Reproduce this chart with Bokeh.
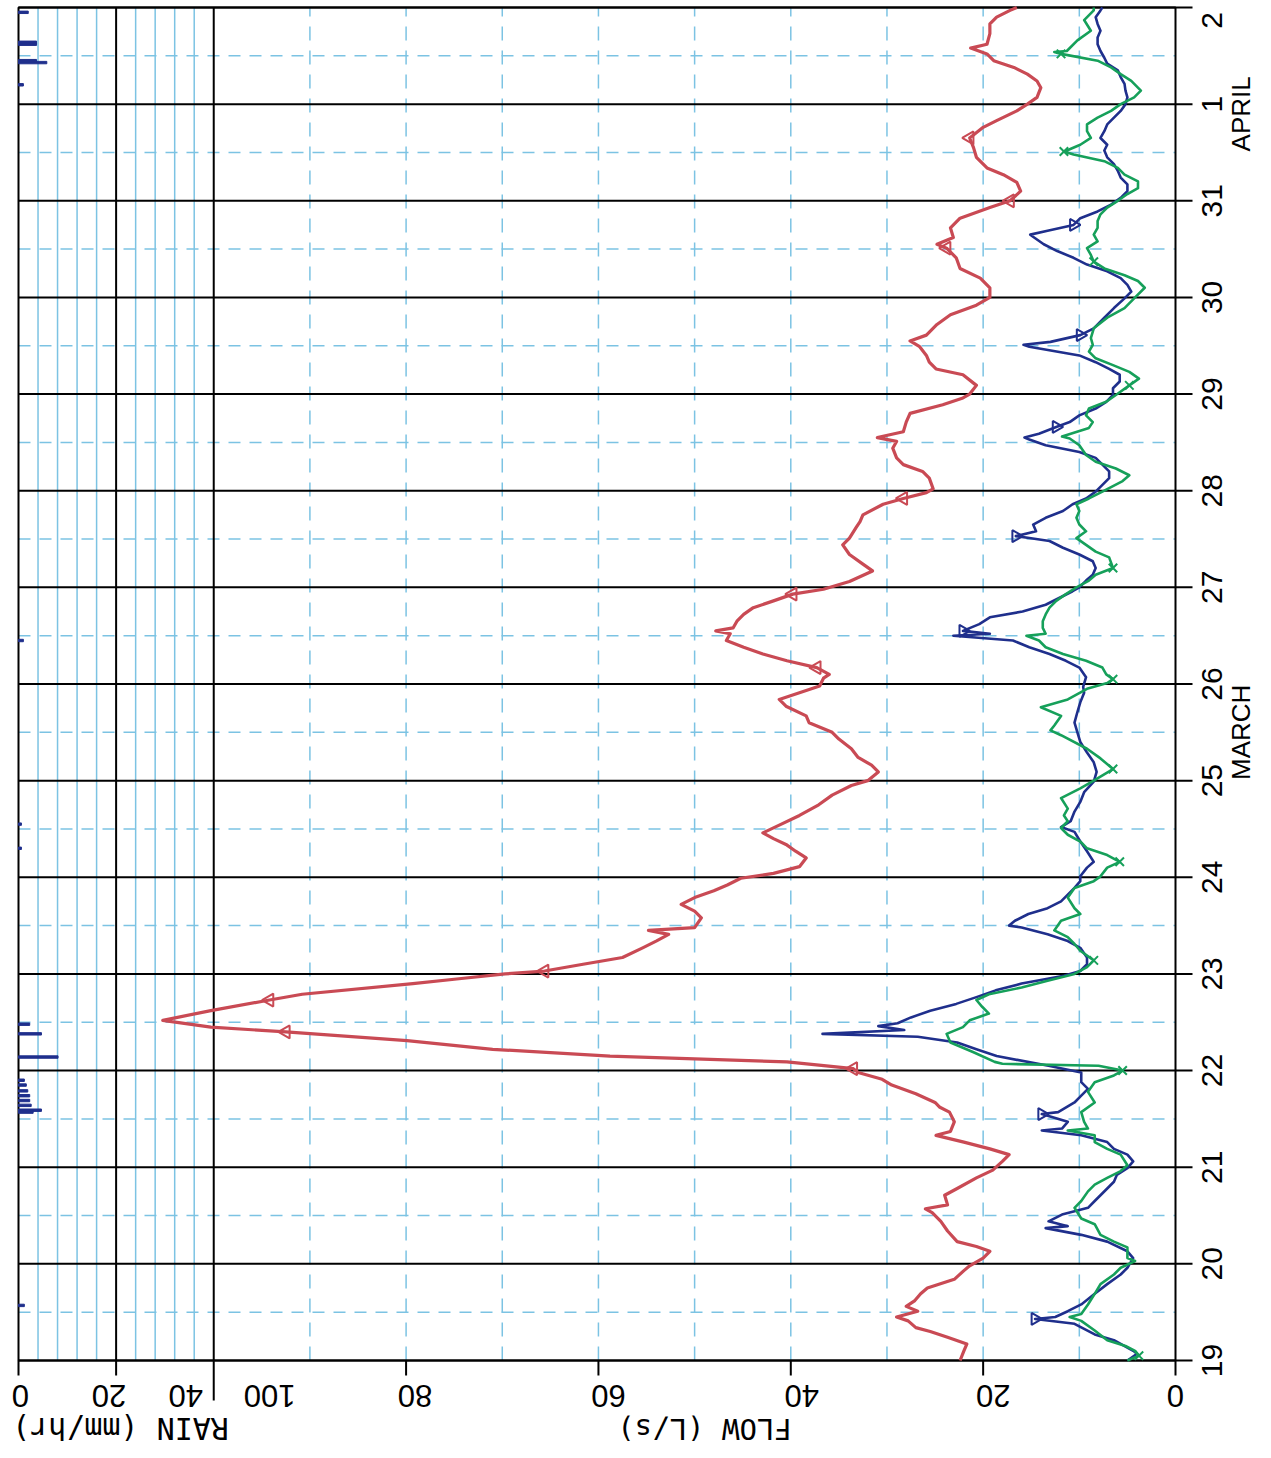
import numpy as np
from bokeh.plotting import figure
from bokeh.models import Range1d
from bokeh.core.properties import value
from bokeh.embed import file_html
from bokeh.resources import INLINE

# ---------------- data (days since 19 March 00:00) ----------------
red_day = [0.00, 0.10, 0.17, 0.24, 0.30, 0.34, 0.41, 0.45, 0.51, 0.56, 0.62, 0.69, 0.75, 0.84, 0.93, 0.98,
           1.06, 1.13, 1.18, 1.23, 1.34, 1.44, 1.53, 1.57, 1.61, 1.71, 1.78, 1.89, 1.97, 2.06, 2.13, 2.19,
           2.26, 2.33, 2.37, 2.47, 2.57, 2.62, 2.67, 2.76, 2.85, 2.91, 2.98, 3.02, 3.09, 3.15, 3.22, 3.31,
           3.40, 3.45, 3.52, 3.62, 3.73, 3.79, 3.90, 3.95, 4.00, 4.03, 4.10, 4.17, 4.27, 4.34, 4.41, 4.45,
           4.48, 4.58, 4.65, 4.72, 4.79, 4.86, 4.92, 4.99, 5.04, 5.11, 5.20, 5.27, 5.34, 5.40, 5.46, 5.54,
           5.64, 5.75, 5.85, 5.95, 6.00, 6.09, 6.16, 6.24, 6.33, 6.43, 6.50, 6.60, 6.67, 6.77, 6.84, 6.91,
           6.98, 7.06, 7.10, 7.17, 7.24, 7.31, 7.38, 7.45, 7.52, 7.55, 7.58, 7.65, 7.72, 7.79, 7.86, 7.93,
           7.98, 8.06, 8.17, 8.24, 8.34, 8.44, 8.51, 8.62, 8.68, 8.75, 8.86, 8.92, 8.98, 9.02, 9.13, 9.20,
           9.27, 9.34, 9.44, 9.51, 9.55, 9.61, 9.71, 9.80, 9.89, 9.96, 10.00, 10.09, 10.20, 10.26, 10.33,
           10.40, 10.49, 10.55, 10.61, 10.72, 10.82, 10.92, 11.00, 11.10, 11.20, 11.30, 11.41, 11.51, 11.55,
           11.62, 11.72, 11.82, 11.93, 12.00, 12.10, 12.19, 12.27, 12.34, 12.45, 12.55, 12.65, 12.76, 12.83,
           12.93, 13.00, 13.07, 13.17, 13.24, 13.31, 13.38, 13.45, 13.52, 13.58, 13.62, 13.73, 13.83, 13.90,
           13.97, 14.00]
red_flow = [22.4, 22.0, 21.7, 23.7, 25.5, 27.0, 27.8, 29.0, 26.8, 28.0, 27.1, 26.5, 25.8, 23.0, 22.0, 21.4,
            20.0, 19.3, 20.7, 22.7, 23.7, 24.4, 25.3, 26.0, 23.7, 24.0, 22.7, 20.7, 19.0, 18.0, 17.3, 19.3,
            22.0, 24.9, 23.4, 23.0, 23.5, 24.5, 25.0, 27.0, 29.5, 30.5, 33.0, 33.5, 40.4, 58.8, 71.0, 79.9,
            92.5, 100.3, 105.3, 100.3, 94.2, 90.8, 79.3, 74.5, 69.7, 65.6, 61.6, 57.5, 55.4, 54.0, 52.7, 54.8,
            50.0, 49.3, 50.0, 51.4, 50.0, 48.0, 46.6, 45.2, 41.8, 39.1, 38.4, 39.5, 40.5, 41.8, 42.9, 41.2,
            39.1, 37.1, 35.7, 33.7, 32.0, 30.9, 31.6, 33.0, 33.7, 35.0, 35.7, 38.1, 38.4, 40.5, 41.2, 39.1,
            37.0, 36.6, 36.0, 37.3, 40.4, 42.9, 44.9, 46.7, 46.3, 47.8, 46.0, 45.6, 44.9, 43.9, 41.8, 39.8,
            36.6, 33.9, 31.5, 32.5, 33.9, 34.6, 33.9, 33.2, 32.8, 32.5, 30.4, 28.3, 25.9, 25.2, 25.6, 26.3,
            28.3, 29.0, 29.4, 29.0, 31.0, 28.3, 28.0, 27.6, 24.2, 22.1, 21.4, 20.7, 22.1, 24.9, 25.6,
            25.9, 26.6, 27.6, 25.9, 24.8, 23.4, 20.7, 19.3, 19.3, 20.3, 22.4, 22.8, 23.8, 24.8,
            23.1, 23.4, 22.4, 19.3, 17.2, 16.1, 16.5, 17.9, 19.6, 20.7, 21.0, 21.4, 20.0, 18.6,
            16.5, 15.4, 14.4, 14.0, 14.4, 15.4, 16.8, 18.9, 19.6, 21.3, 19.6, 19.3, 19.3, 18.6,
            17.2, 16.5]

blue_day = [0.00, 0.07, 0.10, 0.21, 0.27, 0.38, 0.43, 0.45, 0.51, 0.58, 0.69, 0.79, 0.89, 0.96, 1.06, 1.13,
            1.23, 1.30, 1.37, 1.39, 1.44, 1.51, 1.58, 1.65, 1.71, 1.78, 1.85, 1.92, 1.99, 2.06, 2.13, 2.19,
            2.26, 2.33, 2.38, 2.40, 2.47, 2.55, 2.57, 2.67, 2.74, 2.81, 2.88, 2.98, 3.05, 3.15, 3.22, 3.29,
            3.35, 3.38, 3.42, 3.46, 3.49, 3.55, 3.62, 3.69, 3.76, 3.83, 3.90, 3.95, 3.98, 4.03, 4.10, 4.17,
            4.27, 4.34, 4.41, 4.48, 4.50, 4.55, 4.62, 4.68, 4.75, 4.82, 4.89, 4.96, 5.01, 5.10, 5.16, 5.27,
            5.37, 5.47, 5.52, 5.58, 5.68, 5.78, 5.88, 5.99, 6.09, 6.19, 6.29, 6.40, 6.50, 6.60, 6.71, 6.81,
            6.91, 6.97, 7.07, 7.17, 7.24, 7.31, 7.38, 7.45, 7.50, 7.52, 7.55, 7.62, 7.69, 7.75, 7.82, 7.89,
            7.96, 8.00, 8.07, 8.13, 8.20, 8.27, 8.34, 8.41, 8.48, 8.51, 8.53, 8.58, 8.65, 8.72, 8.79, 8.86,
            8.92, 8.99, 9.06, 9.13, 9.20, 9.27, 9.34, 9.40, 9.47, 9.53, 9.55, 9.59, 9.66, 9.71, 9.78, 9.85,
            9.92, 9.99, 10.06, 10.13, 10.20, 10.26, 10.33, 10.40, 10.49, 10.51, 10.54, 10.61, 10.68, 10.79,
            10.89, 10.99, 11.06, 11.13, 11.20, 11.27, 11.34, 11.41, 11.48, 11.55, 11.62, 11.65, 11.69, 11.75,
            11.82, 11.89, 11.96, 12.03, 12.10, 12.17, 12.24, 12.31, 12.38, 12.45, 12.52, 12.58, 12.65, 12.72,
            12.79, 12.86, 12.93, 13.00, 13.07, 13.14, 13.21, 13.28, 13.35, 13.42, 13.48, 13.55, 13.62, 13.69,
            13.76, 13.83, 13.90, 13.97, 14.00]
blue_flow = [5.0, 4.0, 4.4, 6.4, 8.4, 10.5, 14.6, 12.5, 11.2, 9.8, 8.4, 7.1, 5.7, 5.0, 4.4, 5.0,
             7.1, 9.8, 13.5, 11.2, 13.2, 11.8, 9.1, 8.4, 7.8, 7.1, 6.4, 6.1, 5.0, 4.4, 5.0, 6.4,
             7.1, 9.8, 13.9, 11.8, 11.2, 13.9, 12.2, 10.5, 9.8, 9.1, 9.8, 9.8, 13.2, 18.6, 20.7, 22.7,
             26.8, 36.7, 28.2, 30.9, 28.9, 27.5, 25.5, 22.8, 20.7, 18.7, 16.0, 13.3, 11.6, 9.9, 9.2, 9.2,
             9.9, 11.2, 13.3, 16.0, 17.3, 16.7, 15.3, 13.3, 11.9, 11.2, 10.5, 9.9, 9.9, 9.2, 8.5, 9.2,
             9.9, 10.5, 11.9, 10.9, 10.5, 9.9, 9.5, 8.5, 8.2, 8.5, 9.2, 9.9, 10.2, 10.5, 10.2, 9.9,
             9.5, 9.6, 9.3, 10.0, 11.4, 13.1, 15.2, 16.9, 23.1, 19.3, 22.1, 20.4, 19.3, 15.9, 13.5, 12.1,
             10.7, 10.0, 9.3, 8.6, 8.3, 8.6, 10.0, 11.7, 13.1, 15.2, 16.6, 14.5, 14.8, 13.5, 11.7, 10.7,
             9.3, 8.3, 7.6, 6.9, 6.9, 7.6, 8.3, 10.0, 13.5, 15.2, 15.7, 14.2, 12.4, 11.0, 10.0, 8.3,
             7.2, 6.5, 6.5, 5.8, 5.8, 6.9, 8.3, 10.0, 15.2, 15.8, 13.0, 9.9, 8.5, 7.4,
             6.4, 5.3, 4.6, 5.0, 5.7, 7.1, 9.2, 10.6, 12.3, 13.7, 14.7, 15.1, 13.3, 10.6,
             9.9, 8.1, 6.7, 5.7, 5.0, 5.0, 5.7, 6.0, 6.4, 7.1, 7.4, 7.1, 7.8, 7.4,
             7.1, 6.4, 5.7, 5.2, 5.0, 5.2, 5.3, 5.7, 6.0, 7.1, 7.4, 7.8, 8.1, 8.1,
             7.8, 8.1, 8.3, 7.8, 7.6]

green_day = [0.00, 0.05, 0.10, 0.15, 0.21, 0.31, 0.41, 0.45, 0.48, 0.58, 0.69, 0.79, 0.89, 0.96, 1.03, 1.06,
             1.17, 1.23, 1.30, 1.41, 1.47, 1.58, 1.65, 1.75, 1.82, 1.89, 1.96, 2.02, 2.13, 2.19, 2.26, 2.33,
             2.38, 2.40, 2.47, 2.57, 2.67, 2.78, 2.88, 2.95, 3.00, 3.05, 3.07, 3.09, 3.19, 3.29, 3.38, 3.45,
             3.52, 3.59, 3.66, 3.73, 3.79, 3.86, 3.93, 4.00, 4.07, 4.14, 4.24, 4.31, 4.38, 4.45, 4.55, 4.62,
             4.68, 4.79, 4.89, 4.96, 5.01, 5.10, 5.16, 5.23, 5.30, 5.37, 5.44, 5.51, 5.58, 5.64, 5.71, 5.82,
             5.92, 6.00, 6.12, 6.23, 6.33, 6.47, 6.52, 6.57, 6.67, 6.76, 6.84, 6.95, 7.01, 7.05, 7.10, 7.17,
             7.24, 7.31, 7.38, 7.45, 7.50, 7.52, 7.58, 7.65, 7.72, 7.79, 7.86, 7.93, 8.00, 8.07, 8.13, 8.20,
             8.31, 8.37, 8.44, 8.51, 8.58, 8.65, 8.72, 8.79, 8.86, 8.92, 8.99, 9.10, 9.16, 9.23, 9.30, 9.37,
             9.47, 9.54, 9.56, 9.65, 9.71, 9.78, 9.85, 9.92, 9.99, 10.09, 10.16, 10.23, 10.30, 10.37, 10.44,
             10.51, 10.58, 10.68, 10.79, 10.89, 10.99, 11.10, 11.17, 11.23, 11.30, 11.37, 11.44, 11.51, 11.58,
             11.65, 11.72, 11.79, 11.86, 11.93, 12.00, 12.07, 12.13, 12.20, 12.27, 12.34, 12.41, 12.48, 12.51,
             12.52, 12.58, 12.65, 12.72, 12.79, 12.86, 12.93, 13.00, 13.07, 13.14, 13.24, 13.31, 13.38, 13.45,
             13.52, 13.54, 13.55, 13.66, 13.76, 13.87, 13.97, 14.00]
green_flow = [5.0, 3.8, 4.2, 5.2, 7.1, 8.4, 9.8, 11.0, 9.8, 9.1, 8.4, 7.8, 6.4, 5.7, 4.2, 5.0,
              5.0, 6.4, 7.8, 8.4, 9.8, 10.5, 9.8, 9.1, 8.4, 7.1, 5.7, 5.0, 5.7, 7.1, 8.4, 8.4,
              11.2, 9.1, 9.5, 9.8, 8.4, 9.1, 8.4, 6.4, 5.5, 8.0, 18.0, 18.8, 21.0, 23.4, 23.8, 22.1,
              21.4, 19.4, 20.1, 20.7, 19.4, 16.0, 13.3, 10.5, 9.2, 8.5, 9.9, 10.5, 11.2, 12.6, 11.9, 9.9,
              10.5, 11.2, 10.5, 8.5, 7.8, 7.1, 5.8, 7.1, 9.2, 9.9, 11.2, 11.9, 11.2, 11.6, 11.2, 11.9,
              9.9, 8.5, 6.5, 7.8, 9.2, 11.9, 13.0, 12.6, 11.9, 14.0, 11.2, 9.2, 7.1, 6.5, 7.2, 7.6,
              9.3, 11.7, 13.5, 14.2, 15.5, 13.5, 13.8, 13.8, 13.5, 13.1, 12.4, 11.4, 10.3, 9.0, 8.3, 6.5,
              6.9, 8.3, 9.3, 10.3, 9.3, 10.0, 10.3, 10.0, 10.3, 9.0, 7.6, 5.5, 4.8, 6.2, 8.3, 9.3,
              10.0, 11.0, 11.8, 9.0, 8.6, 9.3, 9.0, 7.2, 6.2, 4.8, 3.8, 4.8, 6.5, 8.3, 9.0,
              8.6, 8.8, 8.5, 7.1, 5.3, 4.3, 3.2, 3.9, 5.3, 7.4, 8.5, 8.8, 9.2, 8.1,
              8.5, 8.1, 8.1, 7.8, 7.1, 6.0, 5.0, 3.9, 3.9, 5.3, 6.0, 7.4, 10.6, 11.6,
              11.3, 9.9, 8.8, 9.2, 9.2, 8.1, 6.7, 5.7, 4.3, 3.6, 4.6, 5.7, 6.7, 8.1,
              11.9, 12.6, 11.3, 10.2, 8.8, 9.5, 8.5, 8.5]

rain_day = [0.57, 2.57, 2.59, 2.64, 2.69, 2.74, 2.79, 2.85, 2.90, 3.14, 3.38, 3.48,
            5.30, 5.55, 7.45, 13.20, 13.43, 13.45, 13.62, 13.64, 13.95]
rain_rate = [1.2, 3.0, 4.7, 2.6, 2.3, 2.3, 1.9, 1.6, 1.2, 8.1, 4.7, 2.3,
             0.6, 0.6, 1.0, 1.0, 5.8, 3.7, 3.7, 3.7, 2.0]

red_marker_idx = [43, 48, 52, 57, 99, 111, 123, 155, 161, 168]
blue_marker_idx = [6, 37, 106, 122, 140, 155, 171]
green_marker_idx = [1, 40, 57, 70, 82, 93, 111, 137, 153, 170, 185]

day_ticks = list(range(0, 15))
day_labels = ["19", "20", "21", "22", "23", "24", "25", "26", "27", "28", "29", "30", "31", "1", "2"]
month_names = ["MARCH", "APRIL"]
month_pos = [6.5, 12.9]
flow_ticks = [0, 20, 40, 60, 80, 100]
flow_labels = ["0", "20", "40", "60", "80", "100"]
rain_ticks = [0, 20, 40]
rain_labels = ["0", "20", "40"]
flow_title = "FLOW (L/s)"
rain_title = "RAIN (mm/hr)"

# ---------------- layout / style ----------------
W, H = 1268, 1455                   # canvas
PL, PR, PT, PB = 18, 1175, 7, 1360  # plot box in canvas pixels
FLOW_LEFT = 120.3                   # flow value at the left edge of the box
FLOW_SPLIT = 100.0                  # rain / flow boundary
RAIN_SPLIT = 40.0
DAYS = 14.0

px_flow = (PR - PL) / FLOW_LEFT
px_day = (PB - PT) / DAYS
split_px = PR - FLOW_SPLIT * px_flow
px_rain = (split_px - PL) / RAIN_SPLIT

def fx(px):      # canvas x -> flow
    return (PR - px) / px_flow

def dy(py):      # canvas y -> day
    return (PB - py) / px_day

def rx(px):      # canvas x -> rain
    return (px - PL) / px_rain

RED = "#c94a54"
BLUE = "#1f2f8c"
GREEN = "#16a05a"
GRIDBLUE = "#7cc3e3"
NUM_FONT = "Liberation Sans"
TITLE_FONT = "DejaVu Sans Mono"

p = figure(width=W, height=H,
           x_range=Range1d(fx(0), fx(W)), y_range=Range1d(dy(H), dy(0)),
           output_backend="svg", toolbar_location=None,
           x_axis_location=None, y_axis_location=None,
           min_border=0)
p.extra_x_ranges = {"rain": Range1d(rx(0), rx(W))}
p.grid.visible = False
p.outline_line_color = None
p.background_fill_color = "white"
p.border_fill_color = "white"

# light blue half-day dashed lines
half = [d + 0.5 for d in day_ticks[:-1]]
p.segment(x0=[FLOW_LEFT] * len(half), x1=[0] * len(half), y0=half, y1=half,
          line_color=GRIDBLUE, line_width=1.5, line_dash="12 9")
# dashed flow grid
fg = [10, 20, 30, 40, 50, 60, 70, 80, 90]
p.segment(x0=fg, x1=fg, y0=[0] * len(fg), y1=[DAYS] * len(fg),
          line_color=GRIDBLUE, line_width=1.5, line_dash="14 10")
# rain panel solid light blue lines
rg = [4, 8, 12, 16, 24, 28, 32, 36]
p.segment(x0=rg, x1=rg, y0=[0] * len(rg), y1=[DAYS] * len(rg),
          line_color=GRIDBLUE, line_width=1.5, x_range_name="rain")
p.segment(x0=[20], x1=[20], y0=[0], y1=[DAYS], line_color="black", line_width=2, x_range_name="rain")
# boundary line (extends below as long tick)
p.segment(x0=[FLOW_SPLIT], x1=[FLOW_SPLIT], y0=[dy(PB + 40)], y1=[DAYS], line_color="black", line_width=2)
# day lines, extending right as ticks
p.segment(x0=[FLOW_LEFT] * len(day_ticks), x1=[fx(PR + 17)] * len(day_ticks), y0=day_ticks, y1=day_ticks,
          line_color="black", line_width=2)
# bottom ticks
bt = flow_ticks[:-1]
p.segment(x0=bt, x1=bt, y0=[0] * len(bt), y1=[dy(PB + 15)] * len(bt), line_color="black", line_width=2)
rt = rain_ticks[:-1]
p.segment(x0=rt, x1=rt, y0=[0] * len(rt), y1=[dy(PB + 15)] * len(rt), line_color="black", line_width=2,
          x_range_name="rain")
# box
p.quad(left=[FLOW_LEFT], right=[0], bottom=[0], top=[DAYS], fill_color=None, line_color="black", line_width=2)

# rain bars
p.hbar(y=rain_day, left=0, right=rain_rate, height=0.025, color=BLUE, x_range_name="rain")

# flow series
p.line(blue_flow, blue_day, line_color=BLUE, line_width=2.6, line_join="round")
p.line(green_flow, green_day, line_color=GREEN, line_width=2.6, line_join="round")
p.line(red_flow, red_day, line_color=RED, line_width=3.2, line_join="round")

p.scatter([red_flow[i] for i in red_marker_idx], [red_day[i] for i in red_marker_idx],
          marker="triangle", angle=np.pi / 2, size=13, line_color=RED, fill_color=None, line_width=2)
p.scatter([blue_flow[i] for i in blue_marker_idx], [blue_day[i] for i in blue_marker_idx],
          marker="inverted_triangle", angle=np.pi / 2, size=12, line_color=BLUE, fill_color=None, line_width=2)
p.scatter([green_flow[i] for i in green_marker_idx], [green_day[i] for i in green_marker_idx],
          marker="x", size=12, line_color=GREEN, line_width=2)

# bottom tick labels (upside down)
lab_y = dy(PB + 35)
flow_xoff = [0, 10, 11, 10, 9, 56]      # px to the right of the tick
rain_xoff = [2, -7, -28]
p.text(x=[t - o / px_flow for t, o in zip(flow_ticks, flow_xoff)], y=[lab_y] * len(flow_ticks),
       text=flow_labels, angle=np.pi, text_align="center", text_baseline="middle",
       text_font=value(NUM_FONT), text_font_size="31px", text_color="black")
p.text(x=[t + o / px_rain for t, o in zip(rain_ticks, rain_xoff)], y=[lab_y] * len(rain_ticks),
       text=rain_labels, angle=np.pi, text_align="center", text_baseline="middle", x_range_name="rain",
       text_font=value(NUM_FONT), text_font_size="31px", text_color="black")
# right tick labels (rotated, reading upward)
day_shift = [0.0] * len(day_ticks)
day_shift[-1] = -13 / px_day
p.text(x=[fx(PR + 36)] * len(day_ticks), y=[d + s for d, s in zip(day_ticks, day_shift)],
       text=day_labels, angle=np.pi / 2, text_align="center", text_baseline="middle",
       text_font=value(NUM_FONT), text_font_size="30px", text_color="black")
p.text(x=[fx(PR + 65)] * 2, y=month_pos, text=month_names, angle=np.pi / 2,
       text_align="center", text_baseline="middle",
       text_font=value(NUM_FONT), text_font_size="26px", text_color="black")
# axis titles (upside down)
title_y = dy(PB + 68)
p.text(x=[fx(704)], y=[title_y], text=[flow_title], angle=np.pi, text_align="center",
       text_baseline="middle", text_font=value(TITLE_FONT), text_font_size="29px", text_color="black")
p.text(x=[fx(120)], y=[title_y], text=[rain_title], angle=np.pi, text_align="center",
       text_baseline="middle", text_font=value(TITLE_FONT), text_font_size="30px", text_color="black")

open("out.html", "w").write(file_html(p, INLINE))
